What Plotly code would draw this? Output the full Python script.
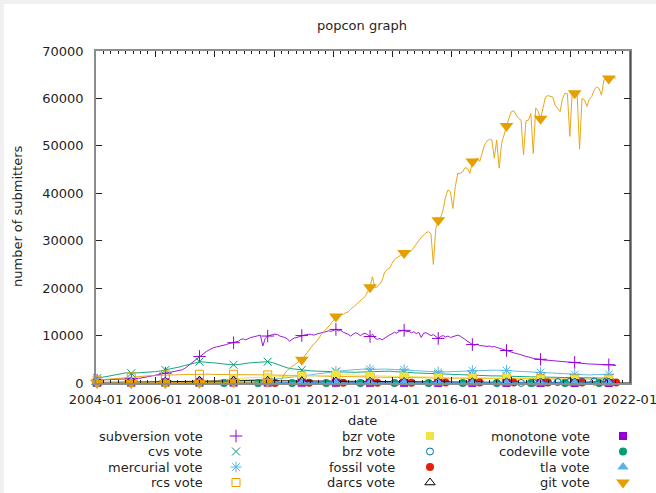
import pandas as pd
import plotly.graph_objects as go

# ---------------- data ----------------
START = "2004-01-15"

# 30-day sampling
git = [
    0, 0, 0, 0, 0, 0, 0, 0, 0, 0, 0, 0, 0, 0, 0, 0, 0, 0, 0, 0,
    0, 0, 0, 0, 0, 0, 0, 0, 0, 0,
    20, 20, 30, 30, 30, 40, 40, 50, 50, 60, 60, 60, 70, 70, 80, 80, 90, 90, 100, 100,
    110, 110, 120, 120, 130, 130, 140, 150, 150, 160, 160, 170, 180, 180, 190, 200, 200, 210, 220, 230,
    240, 250, 260, 270, 280, 300,
    1000, 2000, 2600, 3100, 3500, 3800, 4300, 4600, 4900, 5600, 6300, 6900, 7600, 8300,
    8700, 9500, 10200, 10800, 11300, 11900, 12500, 13200, 14000, 14200, 14300, 14500, 14800, 15000,
    15500, 16000, 16400, 17000, 17500, 17800, 18200, 19200, 20200, 22400, 20100, 20300, 20800, 21700,
    23400, 23900, 24200, 25200, 26000, 26400, 26800, 27100, 27400, 27300, 27600, 27900, 28600, 29400,
    30000, 30700, 31300, 31700, 31900, 31500, 25000, 32600, 34300, 34900, 36500, 39300, 40700, 40300,
    36800, 41400, 44200, 44200, 44500, 45400, 45200, 44200, 46700, 47000, 47400, 46700, 48400, 50200,
    51000, 51400, 51200, 47400, 51200, 45300, 50500, 52300, 54200, 55800, 57200, 57400, 56500, 55800,
    55400, 48100, 55300, 55400, 56800, 48400, 58000, 57300, 55700, 57800, 60300, 60600, 60500, 60300,
    58600, 57900, 57200, 60000, 61100, 61000, 52000, 61400, 61100, 61000, 49300, 60000, 59700, 58300,
    59800, 60400, 61800, 62400, 62100, 60700, 63900, 64000, 64200, 64300, 64400, 64300,
]

subversion = [
    600, 620, 580, 650, 700, 680, 720, 750, 700, 780, 800, 820, 790, 850, 880, 900, 950, 980, 1050, 1140,
    1200, 1250, 1350, 1500, 1650, 1750, 1860, 1950, 2050, 2150, 2250, 2350, 2450, 2500, 2570, 2800, 3100, 3500, 3900, 4350,
    4800, 5200, 5600, 5900, 6300, 6700, 7000, 7300, 7500, 7600, 7700, 7900, 8000, 8100, 8300, 8400, 8500, 8700, 8800, 9200,
    9300, 9100, 9400, 9600, 9700, 9800, 10000, 10100, 7800, 9400, 9900, 10100, 10200, 10300, 10200, 9900, 9800, 9600, 9300, 8800,
    9200, 9500, 9600, 9800, 10000, 10100, 10200, 10300, 10200, 10100, 10300, 10500, 10600, 10700, 10900, 11000, 10900, 11100, 11300, 11000,
    11100, 10700, 10500, 10300, 9900, 10200, 10600, 10400, 10000, 10300, 10500, 10200, 9800, 10300, 9500, 9200, 9400, 9100, 9500, 9800,
    10100, 10400, 10700, 10500, 10900, 11000, 11100, 10800, 10900, 10600, 10800, 10400, 10700, 9600, 10500, 10600, 10300, 10000, 10200, 9700,
    9400, 9800, 10000, 9700, 9900, 9600, 9800, 10000, 10100, 9900, 9500, 9100, 8700, 8400, 8100, 8000, 8200, 7900, 7900, 7800,
    7700, 7800, 7600, 7700, 7500, 7300, 7100, 7000, 6850, 6700, 6500, 6400, 6200, 6100, 5900, 5700, 5600, 5500, 5300, 5200,
    5100, 5000, 5000, 4900, 4800, 4800, 4750, 4700, 4700, 4600, 4500, 4500, 4400, 4400, 4350, 4300, 4350, 4250, 4200, 4150,
    4100, 4050, 4000, 4000, 3950, 3900, 3900, 3850, 3900, 3850, 3850, 3800, 3750, 3700,
]

# 60-day sampling
cvs = [
    1000, 1200, 1400, 1700, 1850, 2100, 2150, 2050, 2100, 2150,
    2250, 2300, 2400, 2550, 2750, 2900, 3100, 3400, 3700, 3900,
    4200, 4500, 4450, 4350, 4300, 4150, 4000, 3900, 3850, 3900,
    4100, 4200, 4300, 4350, 4450, 4500, 4300, 3900, 3500, 3200,
    3000, 2850, 2750, 2650, 2550, 2500, 2450, 2400, 2400, 2400,
    2350, 2300, 2300, 2250, 2300, 2350, 2400, 2450, 2500, 2550,
    2500, 2400, 2300, 2250, 2200, 2150, 2100, 2050, 2000, 1950,
    1900, 1850, 1800, 1800, 1750, 1700, 1650, 1650, 1600, 1550,
    1550, 1500, 1500, 1450, 1450, 1400, 1400, 1350, 1350, 1300,
    1300, 1250, 1250, 1200, 1200, 1200, 1150, 1150, 1150, 1100,
    1100, 1100, 1050, 1050, 1050, 1000, 1000,
]
mercurial = [
    0, 0, 0, 0, 0, 0, 0, 0, 10, 10, 20, 20, 30, 30, 40, 50, 60, 80, 100, 120,
    150, 180, 220, 260, 300, 330, 370, 400, 450, 500, 550, 600, 650, 700, 750, 800, 850, 900, 1000, 1100,
    1200, 1300, 1450, 1600, 1750, 1900, 2050, 2200, 2350, 2450, 2550, 2650, 2750, 2850, 2900, 2950, 2900, 2850, 2900, 2950,
    2900, 2850, 2800, 2800, 2800, 2750, 2700, 2600, 2500, 2400, 2300, 2350, 2400, 2450, 2500, 2550, 2550, 2600, 2600, 2650,
    2700, 2700, 2700, 2650, 2650, 2600, 2500, 2400, 2300, 2250, 2200, 2200, 2150, 2100, 2000, 1950, 1900, 1850, 1800, 1750,
    1750, 1700, 1750, 1800, 1800, 1850, 1850,
]
rcs = [
    600, 700, 800, 900, 1000, 1100, 1200, 1300, 1400, 1450, 1500, 1550, 1600, 1650, 1700, 1700, 1750, 1750, 1800, 1800,
    1800, 1850, 1850, 1850, 1800, 1800, 1800, 1850, 1850, 1800, 1800, 1750, 1750, 1750, 1700, 1700, 1700, 1650, 1650, 1600,
    1600, 1600, 1550, 1550, 1500, 1500, 1450, 1450, 1400, 1400, 1400, 1350, 1350, 1300, 1300, 1300, 1250, 1250, 1250, 1200,
    1200, 1200, 1150, 1150, 1150, 1100, 1100, 1100, 1100, 1050, 1050, 1050, 1050, 1000, 1000, 1000, 1000, 1000, 1000, 950,
    950, 950, 950, 950, 950, 900, 900, 900, 900, 900, 900, 900, 900, 850, 850, 850, 850, 850, 850, 850,
    800, 800, 800, 800, 800, 800, 800,
]
bzr = [
    0, 0, 0, 0, 0, 0, 0, 0, 0, 0, 0, 0, 0, 0, 0, 0, 0, 0, 0, 0,
    0, 50, 200, 400, 550, 650, 750, 850, 950, 1000, 1050, 1100, 1150, 1200, 1250, 1300, 1350, 1400, 1400, 1450,
    1450, 1500, 1500, 1550, 1550, 1600, 1650, 1700, 1750, 1800, 1800, 1750, 1700, 1650, 1600, 1550, 1500, 1500, 1450, 1450,
    1450, 1400, 1400, 1400, 1450, 1400, 1350, 1300, 1250, 1200, 1150, 1150, 1150, 1150, 1100, 1100, 1100, 1100, 1100, 1100,
    1100, 1100, 1100, 1100, 1100, 1050, 1000, 950, 900, 850, 800, 800, 800, 800, 800, 800, 800, 800, 800, 750,
    750, 750, 750, 750, 750, 750, 750,
]

# 210-day sampling (near-zero series)
darcs = [100, 150, 200, 250, 300, 400, 500, 520, 520, 500, 480, 450, 400, 350, 300, 280,
         250, 230, 200, 190, 180, 170, 160, 150, 140, 130, 120, 110, 100, 100, 90]
monotone = [50, 80, 100, 120, 130, 120, 110, 100, 90, 80, 70, 60, 60, 50, 50, 40,
            40, 30, 30, 30, 20, 20, 20, 20, 20, 10, 10, 10, 10, 10, 10]
tla = [150, 150, 200, 200, 150, 150, 100, 100, 80, 80, 60, 60, 50, 50, 40, 40,
       30, 30, 30, 20, 20, 20, 20, 10, 10, 10, 10, 10, 10, 10, 10]
codeville = [0, 0, 0, 0, 0, 0, 0, 0, 0, 0, 0, 0, 0, 0, 0, 0, 0, 0, 0, 0, 0, 0, 0, 0]
fossil = [10, 20, 30, 40, 50, 60, 60, 70, 70, 70, 80, 80, 80, 80, 80, 80, 80, 80, 80, 80, 80]
brz = [10, 30, 60, 100, 130, 160, 190, 220, 250, 270, 290, 300, 310, 320, 330, 340]

dates_30 = pd.date_range(START, periods=len(git), freq="30D")
dates_60 = pd.date_range(START, periods=len(cvs), freq="60D")
dates_210 = pd.date_range(START, periods=len(darcs), freq="210D")
dates_codeville = pd.date_range("2008-04-24", periods=len(codeville), freq="210D")
dates_fossil = pd.date_range("2010-01-13", periods=len(fossil), freq="210D")
dates_brz = pd.date_range("2018-05-01", periods=len(brz), freq="75D")

tick_labels = ["2004-01", "2006-01", "2008-01", "2010-01", "2012-01",
               "2014-01", "2016-01", "2018-01", "2020-01", "2022-01"]

# name, x, y, marker every n points, colour, symbol, size, open/thin
series = [
    ("subversion vote", dates_30, subversion, 14, "#9400d3", "cross-thin", 9, True),
    ("cvs vote", dates_60, cvs, 7, "#009e73", "x-thin", 8, True),
    ("mercurial vote", dates_60, mercurial, 7, "#56b4e9", "asterisk", 9, True),
    ("rcs vote", dates_60, rcs, 7, "#e69f00", "square-open", 8, True),
    ("bzr vote", dates_60, bzr, 7, "#f0e442", "square", 8, False),
    ("brz vote", dates_brz, brz, 2, "#0072b2", "circle-open", 7, True),
    ("fossil vote", dates_fossil, fossil, 2, "#e51e10", "circle", 8, False),
    ("darcs vote", dates_210, darcs, 2, "#000000", "triangle-up-open", 9, True),
    ("monotone vote", dates_210, monotone, 2, "#9400d3", "square", 8, False),
    ("codeville vote", dates_codeville, codeville, 2, "#009e73", "circle", 8, False),
    ("tla vote", dates_210, tla, 2, "#56b4e9", "triangle-up", 10, False),
    ("git vote", dates_30, git, 14, "#e69f00", "triangle-down", 12, False),
]

# ---------------- layout geometry (pixels) ----------------
W, H = 656, 493
PL, PR, PT, PB = 96, 630, 51, 383
FONT = "DejaVu Sans"
TXT = "#1f1f1f"


def marker_dict(color, symbol, size, thin):
    if thin:
        return dict(symbol=symbol, size=size, color=color,
                    line=dict(color=color, width=1))
    return dict(symbol=symbol, size=size, color=color, line=dict(width=0))


fig = go.Figure()
for name, x, y, step, color, symbol, size, thin in series:
    xs = list(x)
    fig.add_trace(go.Scatter(x=xs, y=y, mode="lines", name=name,
                             line=dict(color=color, width=1), opacity=0.9,
                             showlegend=False, hoverinfo="skip"))
    fig.add_trace(go.Scatter(x=xs[::step], y=y[::step], mode="markers", name=name,
                             marker=marker_dict(color, symbol, size, thin),
                             cliponaxis=False, showlegend=False))

# ---------------- legend (3 columns x 4 rows, below the plot) ----------------
col_text_x = [205, 397, 592]
col_mark_x = [236, 430, 623]
row_y = [436, 451.5, 467, 482.5]
annotations = []
for k, (name, x, y, step, color, symbol, size, thin) in enumerate(series):
    c, r = divmod(k, 4)
    annotations.append(dict(x=col_text_x[c], y=row_y[r], xref="x2", yref="y2",
                            text=name, showarrow=False, xanchor="right",
                            yanchor="middle", font=dict(family=FONT, size=13, color=TXT)))
    fig.add_trace(go.Scatter(x=[col_mark_x[c]], y=[row_y[r]], xaxis="x2", yaxis="y2",
                             mode="markers", marker=marker_dict(color, symbol, size, thin),
                             cliponaxis=False, showlegend=False, hoverinfo="skip"))

annotations.append(dict(x=362, y=420, xref="x2", yref="y2", text="date",
                        showarrow=False, xanchor="center", yanchor="middle",
                        font=dict(family=FONT, size=13, color=TXT)))
annotations.append(dict(x=(17 - PL) / (PR - PL), y=(H - 216) / (H - PT),
                        xref="paper", yref="paper", text="number of submitters",
                        textangle=-90, showarrow=False, xanchor="center",
                        yanchor="middle", font=dict(family=FONT, size=13, color=TXT)))

main_dom_bottom = (H - PB) / (H - PT)

shapes = [
    # white card with a thin grey strip on top and left
    dict(type="rect", xref="paper", yref="paper", layer="below",
         x0=(4 - PL) / (PR - PL), x1=(W - PL) / (PR - PL),
         y0=0, y1=(H - 4) / (H - PT), fillcolor="white", line=dict(width=0)),
    dict(type="line", xref="x domain", yref="y domain", x0=1, x1=1, y0=0, y1=1,
         line=dict(color="#111", width=1), layer="above"),
    dict(type="line", xref="x domain", yref="y domain", x0=0, x1=1, y0=0, y1=0,
         line=dict(color="#111", width=1), layer="below"),
]

fig.update_layout(
    width=W, height=H, template="none",
    margin=dict(l=PL, r=W - PR, t=PT, b=0, pad=0),
    paper_bgcolor="#f0f0f0", plot_bgcolor="white",
    font=dict(family=FONT, size=13, color=TXT),
    showlegend=False,
    title=dict(text="popcon graph", x=362 / W, y=1 - 25 / H, xanchor="center",
               yanchor="middle", xref="container", yref="container",
               font=dict(family=FONT, size=13, color=TXT)),
    xaxis=dict(type="date", range=["2003-12-31 23:00", "2022-01-01 01:00"], domain=[0, 1], anchor="y",
               tickmode="array", tickvals=[t + "-01" for t in tick_labels], ticktext=tick_labels,
               ticks="inside", ticklen=6, tickcolor="#222", tickwidth=1,
               showline=True, linecolor="#8c8c8c", linewidth=1.5, mirror="allticks",
               showgrid=False, zeroline=False, automargin=False,
               ticklabeloverflow="allow",
               tickfont=dict(family=FONT, size=13, color=TXT), ticklabelstandoff=4,
               minor=dict(ticks="inside", ticklen=3, dtick="M3", tick0="2004-01-01",
                          tickcolor="#222", showgrid=False)),
    yaxis=dict(range=[0, 70000], dtick=10000, tick0=0, tickformat="d", domain=[main_dom_bottom, 1],
               anchor="x", ticks="inside", ticklen=6, tickcolor="#222", tickwidth=1,
               showline=True, linecolor="#8c8c8c", linewidth=1.5, mirror="allticks",
               showgrid=False, zeroline=False, automargin=False,
               tickfont=dict(family=FONT, size=13, color=TXT), ticklabelstandoff=8),
    xaxis2=dict(domain=[0, 1], range=[PL, PR], visible=False, anchor="y2", fixedrange=True),
    yaxis2=dict(domain=[0, main_dom_bottom], range=[H, PB], visible=False, anchor="x2",
                fixedrange=True),
    annotations=annotations,
    shapes=shapes,
)

fig.write_html("out.html", config={"displayModeBar": False},
               post_script="document.body.style.margin='0';")
